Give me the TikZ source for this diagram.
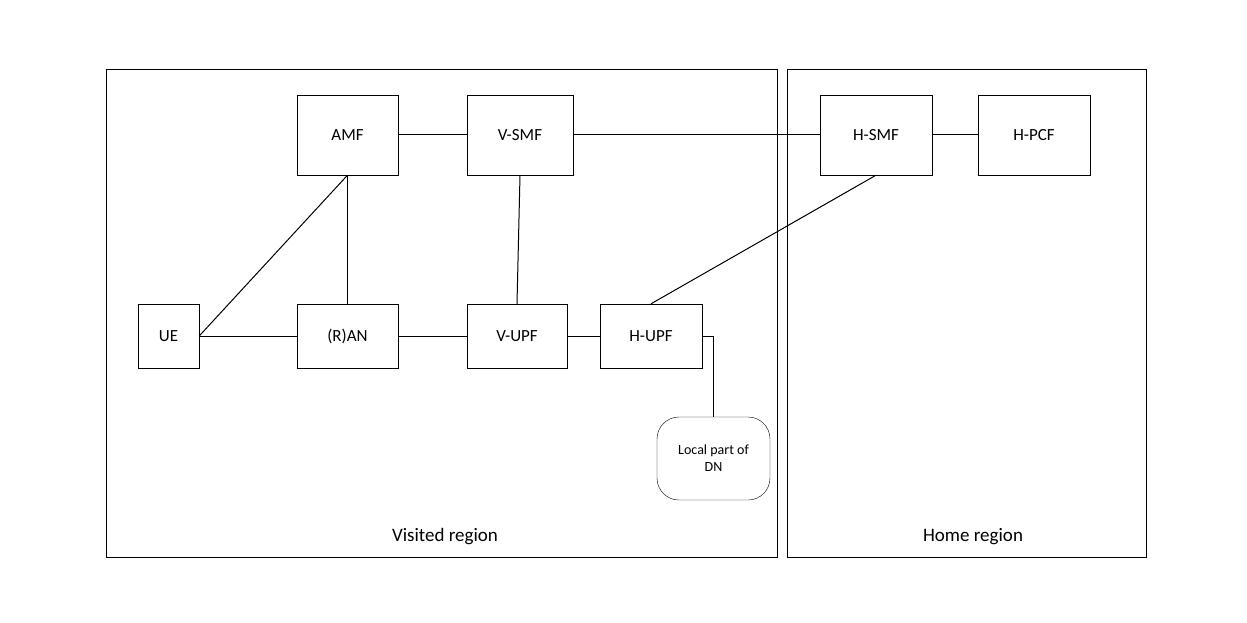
\documentclass[tikz,border=0pt]{standalone}
\usepackage{fontspec}
\setmainfont{Carlito}
\begin{document}
\begin{tikzpicture}[x=1pt,y=-1pt,
  nf/.style={draw,thin,minimum width=0pt,inner sep=0pt,font=\fontsize{17}{20}\selectfont},
  region/.style={draw,line width=1pt},
  link/.style={line width=1pt}]
\useasboundingbox (0,0) rectangle (1247,623);
\draw[region] (106,70) rectangle (777,557);
\draw[region] (787,70) rectangle (1146,557);
\node[font=\fontsize{19}{22}\selectfont] (vr) at (445,537) {Visited region};
\node[font=\fontsize{19}{22}\selectfont] (hr) at (973,537) {Home region};
\newcommand{\nfbox}[6]{\node[nf,minimum width=#4-#2,minimum height=#5-#3] (#1) at ({(#2+#4)/2},{(#3+#5)/2}) {#6};}
\node[nf,minimum width=101,minimum height=80] (amf) at (347.5,135) {AMF};
\node[nf,minimum width=106,minimum height=80] (vsmf) at (520,135) {V-SMF};
\node[nf,minimum width=112,minimum height=80] (hsmf) at (876,135) {H-SMF};
\node[nf,minimum width=112,minimum height=80] (hpcf) at (1034,135) {H-PCF};
\node[nf,minimum width=61,minimum height=64] (ue) at (168.5,336) {UE};
\node[nf,minimum width=101,minimum height=64] (ran) at (347.5,336) {(R)AN};
\node[nf,minimum width=100,minimum height=64] (vupf) at (517,336) {V-UPF};
\node[nf,minimum width=102,minimum height=64] (hupf) at (651,336) {H-UPF};
\node[draw,thin,rounded corners=22,minimum width=113,minimum height=83,align=center,
  font=\fontsize{14}{17}\selectfont] (dn) at (713.5,458.5) {Local part of\\DN};
\draw[link] (amf) -- (vsmf);
\draw[link] (vsmf) -- (hsmf);
\draw[link] (hsmf) -- (hpcf);
\draw[link] (amf.south) -- (ue.east);
\draw[link] (amf.south) -- (ran.north);
\draw[link] (ue) -- (ran);
\draw[link] (ran) -- (vupf);
\draw[link] (vupf) -- (hupf);
\draw[link] (vsmf.south) -- (vupf.north);
\draw[link] (hsmf.south) -- (hupf.north);
\draw[link] (hupf.east) -- (hupf.east -| dn.north) -- (dn.north);
\end{tikzpicture}
\end{document}
